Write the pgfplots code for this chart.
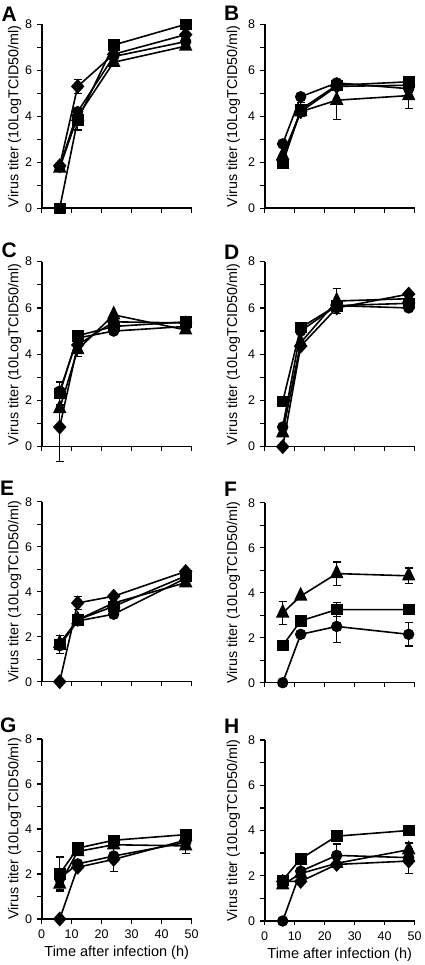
\documentclass[border=0pt]{standalone}
\usepackage{pgfplots}
\pgfplotsset{compat=1.18}
\usepackage{fontspec}
\setmainfont{Liberation Sans}
\pgfplotsset{
  panel/.style={
    scale only axis, width=150bp, height=183bp,
    xmin=0, xmax=50, ymin=0, ymax=8,
    axis x line*=bottom, axis y line*=left,
    x axis line style={-, line width=1.6bp},
    y axis line style={-, line width=1.6bp},
    every tick/.style={line width=1.3bp, black},
    tick align=outside, major tick length=4.5bp, minor tick length=4.5bp,
    xtick={0,10,...,50}, ytick={0,2,...,8}, minor ytick={1,3,5,7},
    xticklabels={},
    tick label style={font=\fontsize{12.5bp}{14bp}\selectfont},
    xticklabel style={yshift=-2.5bp},
    yticklabel style={xshift=-1.5bp},
    ylabel={Virus titer (10LogTCID50/ml)},
    ylabel style={font=\fontsize{14.3bp}{16bp}\selectfont, at={(axis description cs:-0.112,0.5)}, anchor=south},
    xlabel style={font=\fontsize{14.5bp}{16bp}\selectfont, yshift=-1bp},
    clip=false,
    /pgf/number format/assume math mode=true,
    every axis plot/.append style={line width=1.6bp, black, mark options={fill=black, solid, line width=0.8bp},
      error bars/y dir=both, error bars/y explicit,
      error bars/error mark options={rotate=90, mark size=4bp, line width=1.3bp},
      error bars/error bar style={line width=1.3bp}},
  },
  rightcol/.style={ylabel style={at={(axis description cs:-0.14,0.5)}}},
  sq/.style={mark=square*, mark size=5.3bp},
  ci/.style={mark=*, mark size=5.3bp},
  di/.style={mark=diamond*, mark size=6.3bp, mark options={xscale=1.2}},
  tr/.style={mark=triangle*, mark size=6.3bp, mark options={yscale=1.2}},
}
\newcommand{\plab}[2]{\node[anchor=base west, inner sep=0pt, font=\fontsize{21bp}{24bp}\selectfont\bfseries] at #1 {#2};}
\begin{document}
\begin{tikzpicture}
\useasboundingbox (0,0) rectangle (425bp,965bp);
% A
\begin{axis}[panel, height=184bp, at={(41.7bp,756.7bp)}, anchor=south west]
\addplot[sq] coordinates {(6,0) (12,3.85) +- (0,0.45) (24,7.1) (48,8.0)};
\addplot[di] coordinates {(6,1.85) (12,5.3) +- (0,0.3) (24,6.7) (48,7.55)};
\addplot[ci] coordinates {(6,1.8) (12,4.2) (24,6.6) (48,7.25)};
\addplot[tr] coordinates {(6,1.75) (12,4.0) (24,6.35) (48,7.05)};
\end{axis}
% B
\begin{axis}[panel, rightcol, height=184bp, at={(264.7bp,756.7bp)}, anchor=south west]
\addplot[ci] coordinates {(6,2.8) (12,4.85) (24,5.45) (48,5.2)};
\addplot[sq] coordinates {(6,1.95) (12,4.3) +- (0,0.3) (24,5.35) (48,5.5)};
\addplot[di] coordinates {(6,2.1) (12,4.2) (24,5.3) (48,5.35)};
\addplot[tr] coordinates {(6,2.3) (12,4.2) (24,4.7) +- (0,0.85) (48,4.9) +- (0,0.55)};
\end{axis}
% C
\begin{axis}[panel, height=185bp, at={(41.7bp,518.3bp)}, anchor=south west]
\addplot[sq] coordinates {(6,2.3) +- (0,0.5) (12,4.8) (24,5.2) (48,5.4)};
\addplot[ci] coordinates {(6,2.4) (12,4.7) (24,5.0) (48,5.2)};
\addplot[di] coordinates {(6,0.85) +- (0,1.5) (12,4.4) (24,5.4) (48,5.35)};
\addplot[tr] coordinates {(6,1.65) (12,4.2) +- (0,0.3) (24,5.7) (48,5.05)};
\end{axis}
% D
\begin{axis}[panel, rightcol, height=185bp, at={(264.7bp,518.3bp)}, anchor=south west]
\addplot[sq] coordinates {(6,1.95) (12,5.15) (24,6.1) (48,6.2)};
\addplot[ci] coordinates {(6,0.85) (12,5.0) (24,6.1) (48,6.0)};
\addplot[tr] coordinates {(6,0.6) (12,4.5) (24,6.3) +- (0,0.55) (48,6.4)};
\addplot[di] coordinates {(6,0) (12,4.35) (24,6.0) (48,6.6)};
\end{axis}
% E
\begin{axis}[panel, height=180bp, at={(41.7bp,283.3bp)}, anchor=south west]
\addplot[sq] coordinates {(6,1.65) +- (0,0.4) (12,2.75) (24,3.35) (48,4.7)};
\addplot[ci] coordinates {(6,1.6) (12,2.7) (24,3.0) (48,4.6)};
\addplot[tr] coordinates {(6,1.7) (12,2.75) (24,3.5) (48,4.4)};
\addplot[di] coordinates {(6,0) (12,3.5) +- (0,0.3) (24,3.8) (48,4.9)};
\end{axis}
% F
\begin{axis}[panel, rightcol, height=180bp, at={(264.7bp,282.3bp)}, anchor=south west]
\addplot[tr] coordinates {(6,3.1) +- (0,0.5) (12,3.85) (24,4.85) +- (0,0.52) (48,4.75) +- (0,0.35)};
\addplot[sq] coordinates {(6,1.65) (12,2.75) (24,3.25) +- (0,0.3) (48,3.25)};
\addplot[ci] coordinates {(6,0) (12,2.15) (24,2.5) +- (0,0.72) (48,2.15) +- (0,0.52)};
\end{axis}
% G
\begin{axis}[panel, height=180bp, at={(41.7bp,46bp)}, anchor=south west,
  xticklabels={0,10,20,30,40,50}, xlabel={Time after infection (h)}]
\addplot[sq] coordinates {(6,2.0) +- (0,0.75) (12,3.15) (24,3.5) (48,3.75)};
\addplot[tr] coordinates {(6,1.55) +- (0,0.25) (12,3.0) (24,3.3) (48,3.25) +- (0,0.35)};
\addplot[ci] coordinates {(6,1.8) (12,2.45) (24,2.8) (48,3.4)};
\addplot[di] coordinates {(6,0) (12,2.3) (24,2.65) +- (0,0.55) (48,3.5)};
\end{axis}
% H
\begin{axis}[panel, rightcol, height=181bp, at={(264.7bp,44bp)}, anchor=south west,
  xticklabels={0,10,20,30,40,50}, xlabel={Time after infection (h)}]
\addplot[sq] coordinates {(6,1.8) (12,2.75) (24,3.75) (48,4.0)};
\addplot[ci] coordinates {(6,0) (12,2.2) (24,2.9) +- (0,0.5) (48,2.8)};
\addplot[tr] coordinates {(6,1.6) (12,2.1) (24,2.55) (48,3.15) +- (0,0.3)};
\addplot[di] coordinates {(6,1.75) (12,1.75) (24,2.5) (48,2.65) +- (0,0.55)};
\end{axis}
\plab{(1.5bp,943bp)}{A}
\plab{(224bp,944bp)}{B}
\plab{(1.5bp,707bp)}{C}
\plab{(224bp,705bp)}{D}
\plab{(0bp,469bp)}{E}
\plab{(224bp,468bp)}{F}
\plab{(0bp,232bp)}{G}
\plab{(224bp,231bp)}{H}
\end{tikzpicture}
\end{document}
